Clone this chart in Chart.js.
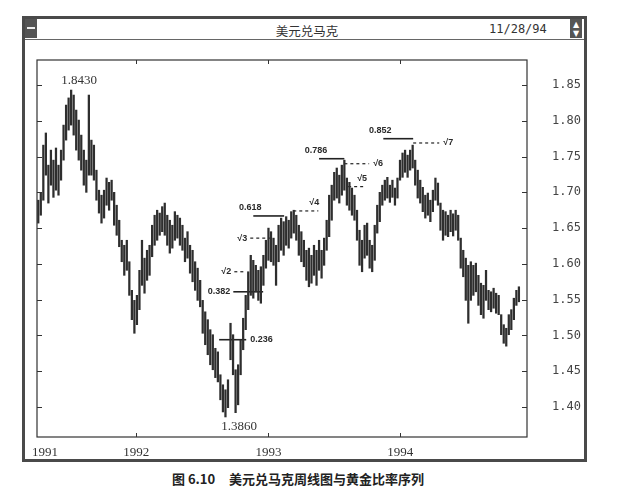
<!DOCTYPE html>
<html>
<head>
<meta charset="utf-8">
<title>美元兑马克</title>
<script src="https://cdn.jsdelivr.net/npm/chart.js@4.4.1/dist/chart.umd.min.js"></script>
<style>
  html, body { margin: 0; padding: 0; background: #fff; }
  body { width: 623px; height: 499px; position: relative; overflow: hidden; }
  #win {
    position: absolute; left: 22px; top: 16px; width: 565px; height: 446px;
    box-sizing: border-box; border: 3px solid #4a4a4a; background: #fff;
  }
  #bar {
    position: absolute; left: 0; top: 0; right: 0; height: 20px;
    border-bottom: 1px solid #666;
  }
  #ttl {
    position: absolute; left: 282px; top: 2px; transform: translateX(-50%);
    font: 12.5px "Noto Sans CJK SC", sans-serif; color: #333;
  }
  #date {
    position: absolute; left: 464px; top: 3px;
    font: 12px "DejaVu Sans Mono", monospace; color: #333;
  }
  .btn {
    position: absolute; top: 0; width: 12px; height: 19px; background: #555;
    color: #fff; font: 8px "DejaVu Sans", sans-serif; text-align: center; line-height: 9px;
  }
  #bl { left: 0; }
  #bl::after {
    content: ""; position: absolute; left: 2px; top: 8px; width: 8px; height: 2px; background: #eee;
  }
  #br { left: 545px; padding-top: 1px; height: 18px; }
  .cap {
    position: absolute; top: 469px;
    font: bold 13px "Noto Sans CJK SC", sans-serif; color: #222; white-space: pre;
  }
  #cap1 { left: 172px; }
  #cap2 { left: 229px; }
  #c { position: absolute; left: 0; top: 0; }
</style>
</head>
<body>
<div id="win">
  <div id="bar">
    <div class="btn" id="bl"></div>
    <span id="ttl">美元兑马克</span>
    <span id="date">11/28/94</span>
    <div class="btn" id="br">▲<br>▼</div>
  </div>
</div>
<div class="cap" id="cap1">图 6.10</div>
<div class="cap" id="cap2">美元兑马克周线图与黄金比率序列</div>
<canvas id="c" width="623" height="499"></canvas>
<script>
// 周线 高/低 (week 0 ≈ 1991-04-05)
const weeklyHigh = [
  1.689, 1.699, 1.766, 1.783, 1.738, 1.759, 1.745, 1.762, 1.738, 1.759,
  1.794, 1.822, 1.832, 1.843, 1.836, 1.815, 1.801, 1.780, 1.759, 1.745,
  1.836, 1.773, 1.766, 1.731, 1.703, 1.696, 1.703, 1.720, 1.714, 1.717,
  1.700, 1.682, 1.661, 1.633, 1.626, 1.633, 1.603, 1.563, 1.549, 1.556,
  1.591, 1.633, 1.608, 1.619, 1.626, 1.654, 1.668, 1.675, 1.671, 1.680,
  1.685, 1.668, 1.661, 1.654, 1.673, 1.668, 1.664, 1.654, 1.636, 1.645,
  1.626, 1.619, 1.603, 1.594, 1.577, 1.549, 1.533, 1.522, 1.508, 1.501,
  1.482, 1.477, 1.445, 1.431, 1.424, 1.438, 1.517, 1.501, 1.452, 1.459,
  1.494, 1.524, 1.556, 1.589, 1.612, 1.605, 1.598, 1.591, 1.596, 1.612,
  1.633, 1.650, 1.645, 1.636, 1.626, 1.654, 1.664, 1.659, 1.666, 1.661,
  1.673, 1.675, 1.668, 1.654, 1.645, 1.633, 1.619, 1.622, 1.612, 1.626,
  1.619, 1.633, 1.619, 1.636, 1.661, 1.696, 1.710, 1.728, 1.734, 1.724,
  1.738, 1.745, 1.720, 1.714, 1.706, 1.696, 1.675, 1.647, 1.633, 1.654,
  1.657, 1.633, 1.626, 1.654, 1.682, 1.700, 1.710, 1.717, 1.721, 1.710,
  1.717, 1.706, 1.720, 1.745, 1.755, 1.759, 1.752, 1.759, 1.766, 1.745,
  1.731, 1.717, 1.707, 1.696, 1.699, 1.689, 1.703, 1.720, 1.713, 1.685,
  1.675, 1.673, 1.668, 1.675, 1.670, 1.675, 1.668, 1.636, 1.619, 1.608,
  1.598, 1.603, 1.598, 1.601, 1.584, 1.573, 1.570, 1.591, 1.563, 1.561,
  1.566, 1.559, 1.556, 1.529, 1.515, 1.510, 1.529, 1.536, 1.552, 1.563,
  1.568
];
const weeklyLow = [
  1.657, 1.668, 1.689, 1.724, 1.685, 1.710, 1.693, 1.703, 1.696, 1.717,
  1.745, 1.773, 1.787, 1.794, 1.780, 1.759, 1.745, 1.731, 1.710, 1.700,
  1.724, 1.724, 1.717, 1.689, 1.671, 1.657, 1.664, 1.682, 1.675, 1.689,
  1.654, 1.640, 1.624, 1.603, 1.584, 1.591, 1.556, 1.522, 1.503, 1.515,
  1.536, 1.570, 1.559, 1.577, 1.584, 1.610, 1.626, 1.633, 1.640, 1.645,
  1.640, 1.626, 1.615, 1.622, 1.633, 1.636, 1.626, 1.619, 1.603, 1.608,
  1.587, 1.575, 1.563, 1.549, 1.540, 1.503, 1.487, 1.473, 1.459, 1.452,
  1.441, 1.435, 1.410, 1.393, 1.386, 1.399, 1.466, 1.445, 1.392, 1.403,
  1.445, 1.480, 1.508, 1.536, 1.556, 1.552, 1.561, 1.549, 1.545, 1.570,
  1.594, 1.605, 1.603, 1.598, 1.570, 1.603, 1.619, 1.612, 1.626, 1.622,
  1.636, 1.643, 1.633, 1.612, 1.603, 1.596, 1.577, 1.568, 1.573, 1.584,
  1.570, 1.591, 1.580, 1.598, 1.619, 1.638, 1.661, 1.689, 1.692, 1.685,
  1.696, 1.703, 1.682, 1.675, 1.668, 1.661, 1.633, 1.598, 1.589, 1.608,
  1.612, 1.594, 1.589, 1.605, 1.643, 1.659, 1.682, 1.689, 1.692, 1.686,
  1.693, 1.682, 1.692, 1.717, 1.721, 1.728, 1.721, 1.731, 1.734, 1.710,
  1.692, 1.685, 1.673, 1.664, 1.668, 1.659, 1.673, 1.689, 1.682, 1.647,
  1.633, 1.640, 1.638, 1.645, 1.639, 1.647, 1.633, 1.594, 1.582, 1.549,
  1.517, 1.549, 1.556, 1.561, 1.542, 1.529, 1.524, 1.549, 1.536, 1.533,
  1.538, 1.531, 1.529, 1.501, 1.489, 1.485, 1.501, 1.508, 1.522, 1.542,
  1.547
];

const yearLabels = ['1991', '1992', '1993', '1994'];
const yearWeeks = [2.7, 38.7, 91.0, 143.1];
const priceTicks = [1.40, 1.45, 1.50, 1.55, 1.60, 1.65, 1.70, 1.75, 1.80, 1.85];

// 高点/低点
const extremeLabels = ['1.8430', '1.3860'];
const extremeWeeks = [16.2, 79.4];
const extremeValues = [1.843, 1.386];

// 黄金比率 (实线)
const fibLabels = ['0.236', '0.382', '0.618', '0.786', '0.852'];
const fibLevels = [1.494, 1.561, 1.667, 1.747, 1.775];
const fibFrom = [71.5, 77.1, 85.0, 111.0, 136.4];
const fibTo = [82.2, 88.9, 97.2, 121.0, 148.2];

// 平方根序列 (虚线)
const rootLabels = ['√2', '√3', '√4', '√5', '√6', '√7'];
const rootLevels = [1.589, 1.636, 1.674, 1.708, 1.740, 1.769];
const rootFrom = [77.5, 83.8, 100.8, 122.5, 121.0, 148.2];
const rootTo = [82.2, 92.1, 110.7, 129.6, 130.8, 158.5];

// where each label sits relative to its line
const fibPlace = ['right', 'left', 'aboveStart', 'aboveStart', 'aboveStart'];
const rootPlace = ['left', 'left', 'aboveEnd', 'aboveEnd', 'right', 'right'];

const ink = '#333';

const bars = weeklyHigh.map((h, i) => ({ x: i, y: [weeklyLow[i], h] }));

const levelSet = (from, to, lvl, dashed) => from.map((f, i) => ({
  type: 'line',
  data: [{ x: f, y: lvl[i] }, { x: to[i], y: lvl[i] }],
  borderColor: '#222',
  borderWidth: dashed ? 1.2 : 1.6,
  borderDash: dashed ? [3, 3] : [],
  pointRadius: 0,
  fill: false
}));

// frame, inward ticks and annotation text
const decor = {
  id: 'decor',
  afterDraw(chart) {
    const { ctx, chartArea: a, scales: { x, y } } = chart;
    ctx.save();
    ctx.strokeStyle = ink;
    ctx.lineWidth = 1.2;
    ctx.strokeRect(a.left, a.top, a.right - a.left, a.bottom - a.top);

    ctx.lineWidth = 1;
    ctx.beginPath();
    priceTicks.forEach(v => {
      const py = Math.round(y.getPixelForValue(v)) + 0.5;
      ctx.moveTo(a.left, py); ctx.lineTo(a.left + 5, py);
      ctx.moveTo(a.right - 5, py); ctx.lineTo(a.right, py);
    });
    yearWeeks.slice(1).forEach(w => {
      const px = Math.round(x.getPixelForValue(w)) + 0.5;
      ctx.moveTo(px, a.top); ctx.lineTo(px, a.top + 4);
      ctx.moveTo(px, a.bottom - 4); ctx.lineTo(px, a.bottom);
    });
    ctx.stroke();

    ctx.fillStyle = ink;
    ctx.font = '13px "Liberation Serif", serif';
    ctx.textAlign = 'center';
    ctx.textBaseline = 'middle';
    extremeLabels.forEach((t, i) => {
      const py = y.getPixelForValue(extremeValues[i]);
      ctx.fillText(t, x.getPixelForValue(extremeWeeks[i]), i === 0 ? py - 9 : py + 10);
    });

    const put = (t, from, to, lvl, place) => {
      const x0 = x.getPixelForValue(from), x1 = x.getPixelForValue(to);
      const py = y.getPixelForValue(lvl);
      ctx.textBaseline = 'middle';
      if (place === 'right') { ctx.textAlign = 'left'; ctx.fillText(t, x1 + 4, py); }
      else if (place === 'left') { ctx.textAlign = 'right'; ctx.fillText(t, x0 - 3, py); }
      else if (place === 'aboveStart') { ctx.textAlign = 'center'; ctx.fillText(t, x0 - 3, py - 8); }
      else { ctx.textAlign = 'center'; ctx.fillText(t, x1 - 4, py - 8); }
    };
    ctx.font = 'bold 9px "Liberation Sans", sans-serif';
    ctx.fillStyle = '#2a2a2a';
    fibLabels.forEach((t, i) => put(t, fibFrom[i], fibTo[i], fibLevels[i], fibPlace[i]));
    rootLabels.forEach((t, i) => put(t, rootFrom[i], rootTo[i], rootLevels[i], rootPlace[i]));
    ctx.restore();
  }
};

new Chart(document.getElementById('c'), {
  type: 'bar',
  data: {
    datasets: [
      {
        data: bars,
        backgroundColor: '#2e2e2e',
        borderWidth: 0,
        barThickness: 1.6
      },
      ...levelSet(fibFrom, fibTo, fibLevels, false),
      ...levelSet(rootFrom, rootTo, rootLevels, true)
    ]
  },
  options: {
    responsive: false,
    animation: false,
    layout: { padding: { left: 37, top: 60, right: 36, bottom: 32 } },
    plugins: { legend: { display: false }, tooltip: { enabled: false } },
    scales: {
      x: {
        type: 'linear',
        offset: false,
        min: -0.5,
        max: 193.2,
        grid: { display: false, drawTicks: false },
        border: { display: false },
        afterBuildTicks(scale) { scale.ticks = yearWeeks.map(v => ({ value: v })); },
        afterFit(scale) { scale.height = 30; },
        ticks: {
          autoSkip: false,
          maxRotation: 0,
          padding: 8,
          color: ink,
          font: { family: '"Liberation Serif", serif', size: 13 },
          callback: (v, i) => yearLabels[i]
        }
      },
      y: {
        position: 'right',
        min: 1.358,
        max: 1.885,
        grid: { display: false, drawTicks: false },
        border: { display: false },
        afterBuildTicks(scale) { scale.ticks = priceTicks.map(v => ({ value: v })); },
        afterFit(scale) { scale.width = 60; },
        ticks: {
          padding: 25,
          color: '#444',
          font: { family: '"DejaVu Sans Mono", monospace', size: 12 },
          callback: v => v.toFixed(2)
        }
      }
    }
  },
  plugins: [decor]
});
</script>
</body>
</html>
